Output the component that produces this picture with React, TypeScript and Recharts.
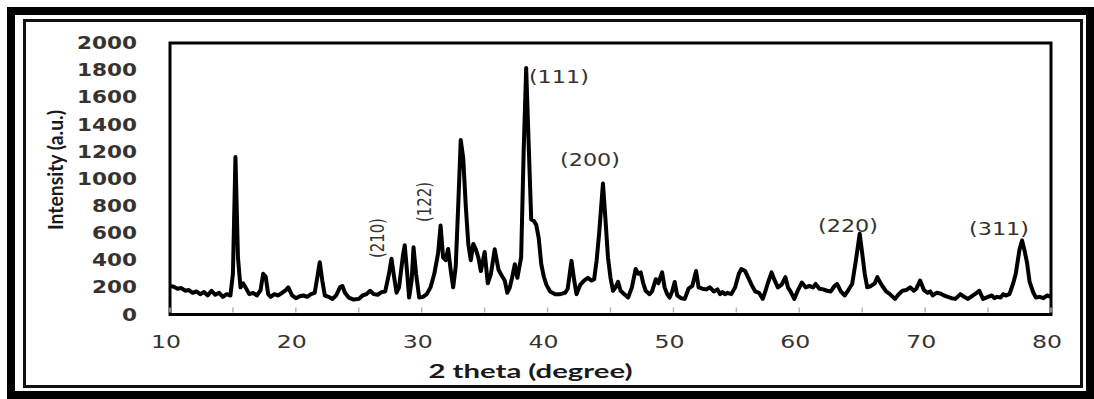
import React from "react";
import { LineChart, Line, XAxis, YAxis, ReferenceArea, ReferenceDot } from "recharts";

// 2 theta positions (degree) and intensity (a.u.)
const twoTheta = [
  10.0, 10.3, 10.6, 10.9, 11.2, 11.5, 11.8, 12.1, 12.4, 12.7, 13.0, 13.3, 13.6, 13.9, 14.2, 14.5, 14.8,
  15.0, 15.2, 15.4, 15.6, 15.8, 16.0, 16.3, 16.6, 16.9, 17.2, 17.4, 17.6, 17.8, 18.0, 18.3, 18.6, 18.9,
  19.2, 19.4, 19.7, 20.0, 20.3, 20.6, 20.9, 21.2, 21.5, 21.75, 21.9, 22.1, 22.3, 22.6, 22.9, 23.2, 23.5,
  23.7, 23.9, 24.2, 24.6, 25.0, 25.3, 25.6, 25.9, 26.2, 26.5, 26.8, 27.1, 27.4, 27.6, 27.8, 28.0, 28.2,
  28.5, 28.65, 28.85, 29.0, 29.2, 29.35, 29.55, 29.8, 30.1, 30.4, 30.7, 31.0, 31.3, 31.5, 31.7, 31.9,
  32.1, 32.3, 32.5, 32.7, 32.9, 33.1, 33.3, 33.5, 33.7, 33.9, 34.1, 34.3, 34.5, 34.7, 35.0, 35.25, 35.5,
  35.8, 36.1, 36.4, 36.6, 36.8, 37.0, 37.2, 37.4, 37.6, 37.9, 38.1, 38.3, 38.5, 38.7, 38.9, 39.1, 39.3,
  39.5, 39.7, 39.9, 40.2, 40.6, 41.0, 41.4, 41.6, 41.9, 42.1, 42.3, 42.6, 42.9, 43.2, 43.5, 43.7, 43.9,
  44.1, 44.4, 44.6, 44.8, 45.0, 45.2, 45.4, 45.6, 45.8, 46.1, 46.4, 46.7, 47.0, 47.2, 47.4, 47.6, 47.8,
  48.1, 48.3, 48.6, 48.8, 49.1, 49.3, 49.5, 49.7, 49.9, 50.1, 50.3, 50.6, 50.9, 51.2, 51.5, 51.8, 52.0,
  52.3, 52.6, 52.9, 53.2, 53.5, 53.7, 53.9, 54.1, 54.3, 54.6, 54.9, 55.2, 55.4, 55.7, 56.0, 56.2, 56.5,
  56.8, 57.1, 57.3, 57.5, 57.8, 58.0, 58.3, 58.6, 58.9, 59.1, 59.3, 59.6, 59.9, 60.2, 60.5, 60.8, 61.1,
  61.3, 61.6, 61.9, 62.2, 62.5, 62.8, 63.0, 63.3, 63.6, 63.9, 64.2, 64.5, 64.8, 65.0, 65.2, 65.4, 65.7,
  66.0, 66.2, 66.4, 66.6, 66.9, 67.2, 67.6, 67.9, 68.2, 68.5, 68.8, 69.1, 69.3, 69.6, 69.9, 70.2, 70.4,
  70.6, 70.9, 71.2, 71.5, 71.8, 72.1, 72.4, 72.8, 73.1, 73.4, 73.8, 74.1, 74.3, 74.6, 75.0, 75.3, 75.5,
  75.7, 76.0, 76.2, 76.4, 76.7, 77.0, 77.2, 77.5, 77.7, 77.9, 78.1, 78.3, 78.6, 78.8, 79.1, 79.4, 79.7,
  80.0,
];

const intensity = [
  210, 205, 190, 195, 175, 180, 160, 170, 150, 165, 140, 175, 145, 160, 130, 150, 140,
  300, 1160, 420, 200, 230, 200, 150, 160, 140, 180, 300, 280, 150, 130, 150, 140, 160,
  180, 200, 140, 120, 135, 140, 130, 150, 160, 300, 385, 250, 140, 130, 115, 140, 200,
  210, 160, 125, 110, 115, 140, 150, 175, 150, 145, 165, 170, 300, 410, 280, 160, 200,
  430, 510, 300, 125, 250, 495, 300, 125, 130, 150, 200, 300, 450, 655, 420, 400,
  483, 330, 200, 350, 800, 1285, 1150, 800, 520, 400, 520, 480, 420, 320, 460, 230, 300,
  480, 330, 280, 250, 160, 200, 280, 370, 270, 420, 1200, 1815, 1250, 700, 690, 660, 560,
  370, 280, 220, 170, 150, 150, 160, 190, 395, 260, 150, 220, 250, 270, 250, 260, 400,
  600, 965, 700, 420, 270, 175, 200, 240, 175, 150, 125, 200, 335, 300, 310, 230, 175,
  150, 170, 260, 230, 310, 200, 150, 125, 170, 240, 140, 120, 115, 190, 210, 320, 200,
  190, 185, 200, 170, 185, 150, 165, 150, 160, 150, 200, 300, 335, 320, 260, 220, 170,
  160, 115, 170, 230, 310, 260, 200, 220, 275, 200, 170, 115, 180, 235, 200, 210, 200,
  225, 190, 185, 175, 170, 210, 225, 170, 140, 180, 225, 400, 595, 450, 300, 200, 210,
  230, 275, 240, 210, 170, 150, 115, 150, 175, 180, 200, 175, 190, 250, 180, 160, 170,
  140, 160, 155, 140, 130, 120, 115, 150, 130, 115, 140, 160, 175, 115, 130, 140, 120,
  130, 125, 150, 140, 150, 230, 300, 480, 545, 470, 380, 240, 160, 125, 130, 120, 140,
  130,
];

const xTicks = [10, 15, 20, 25, 30, 35, 40, 45, 50, 55, 60, 65, 70, 75, 80];
const yTicks = [0, 200, 400, 600, 800, 1000, 1200, 1400, 1600, 1800, 2000];

// plane labels (horizontal)
const peakNames = ["(111)", "(200)", "(220)", "(311)"];
const peakNameX = [40.9, 43.37, 63.87, 75.87];
const peakNameY = [1749, 1138, 652, 630];

// plane labels (vertical)
const sideNames = ["(210)", "(122)"];
const sideNameX = [26.45, 30.18];
const sideNameY = [563, 829];

const data = twoTheta.map((t, i) => ({ t, v: intensity[i] }));

const labelColor = "#36332f";

const YTick = (props: any) => {
  const { x, y, payload } = props;
  const s = String(payload.value);
  return (
    <text
      x={x - 33}
      y={y}
      dy="0.36em"
      textAnchor="end"
      fontFamily="DejaVu Sans"
      fontWeight="bold"
      fontSize={17}
      fill={labelColor}
      textLength={s.length * 15}
      lengthAdjust="spacingAndGlyphs"
    >
      {s}
    </text>
  );
};

const XTick = (props: any) => {
  const { x, y, payload } = props;
  const s = String(payload.value);
  return (
    <g>
      <line x1={x} y1={y - 2} x2={x} y2={y - 7} stroke="#b5b5b5" strokeWidth={1.5} />
      {payload.value % 10 === 0 && (
        <text
          x={x - 4}
          y={y + 27}
          dy="0.36em"
          textAnchor="middle"
          fontFamily="DejaVu Sans"
          fontSize={17}
          fill={labelColor}
          textLength={s.length * 15}
          lengthAdjust="spacingAndGlyphs"
        >
          {s}
        </text>
      )}
    </g>
  );
};

const flatLabel = (text: string) => (p: any) => {
  const { x, y } = p.viewBox;
  return (
    <text
      x={x}
      y={y}
      dy="0.36em"
      textAnchor="middle"
      fontFamily="DejaVu Sans"
      fontSize={17}
      fill={labelColor}
      textLength={text.length * 12}
      lengthAdjust="spacingAndGlyphs"
    >
      {text}
    </text>
  );
};

const upLabel = (text: string) => (p: any) => {
  const { x, y } = p.viewBox;
  return (
    <text
      transform={`translate(${x},${y}) rotate(-90)`}
      x={0}
      y={0}
      dy="0.36em"
      textAnchor="middle"
      fontFamily="DejaVu Sans"
      fontSize={19}
      fill={labelColor}
      textLength={40}
      lengthAdjust="spacingAndGlyphs"
    >
      {text}
    </text>
  );
};

export default function App() {
  return (
    <div style={{ position: "absolute", left: 0, top: 0, width: 1094, height: 399, background: "#fff" }}>
      <div
        style={{
          position: "absolute",
          left: 7,
          top: 7,
          width: 1087,
          height: 392,
          border: "8px solid #000",
          boxSizing: "border-box",
        }}
      />
      <div
        style={{
          position: "absolute",
          left: 23,
          top: 19,
          width: 1060,
          height: 369,
          border: "3px solid #111",
          boxSizing: "border-box",
        }}
      />
      <div style={{ position: "absolute", left: 0, top: 0 }}>
        <LineChart width={1094} height={399} data={data} margin={{ top: 43, right: 43, bottom: 54.5, left: 90 }}>
          <XAxis
            dataKey="t"
            type="number"
            domain={[10, 80]}
            ticks={xTicks}
            interval={0}
            axisLine={false}
            tickLine={false}
            tickSize={0}
            tickMargin={0}
            height={30}
            tick={<XTick />}
            label={(p: any) => {
              const vb = p.viewBox;
              return (
                <text
                  x={vb.x + vb.width / 2 - 80}
                  y={vb.y + 57}
                  dy="0.36em"
                  textAnchor="middle"
                  fontFamily="Lato"
                  fontWeight="bold"
                  fontSize={19}
                  fill="#1a1a1a"
                  textLength={204}
                  lengthAdjust="spacingAndGlyphs"
                >
                  2 theta (degree)
                </text>
              );
            }}
          />
          <YAxis
            type="number"
            domain={[0, 2000]}
            ticks={yTicks}
            interval={0}
            axisLine={false}
            tickLine={false}
            tickSize={0}
            tickMargin={0}
            width={80}
            tick={<YTick />}
            label={(p: any) => {
              const vb = p.viewBox;
              return (
                <text
                  transform={`translate(${vb.x - 35},${vb.y + 127}) rotate(-90)`}
                  x={0}
                  y={0}
                  dy="0.36em"
                  textAnchor="middle"
                  fontFamily="Lato"
                  fontWeight="bold"
                  fontSize={21}
                  fill="#1a1a1a"
                  textLength={120}
                  lengthAdjust="spacingAndGlyphs"
                >
                  Intensity (a.u.)
                </text>
              );
            }}
          />
          <Line
            type="linear"
            dataKey="v"
            stroke="#000"
            strokeWidth={4}
            strokeLinejoin="round"
            dot={false}
            isAnimationActive={false}
          />
          <ReferenceArea x1={10} x2={80} y1={0} y2={2000} fill="none" stroke="#000" strokeWidth={3} />
          {peakNames.map((n, i) => (
            <ReferenceDot key={n} x={peakNameX[i]} y={peakNameY[i]} r={0} stroke="none" label={flatLabel(n)} />
          ))}
          {sideNames.map((n, i) => (
            <ReferenceDot key={n} x={sideNameX[i]} y={sideNameY[i]} r={0} stroke="none" label={upLabel(n)} />
          ))}
        </LineChart>
      </div>
    </div>
  );
}
